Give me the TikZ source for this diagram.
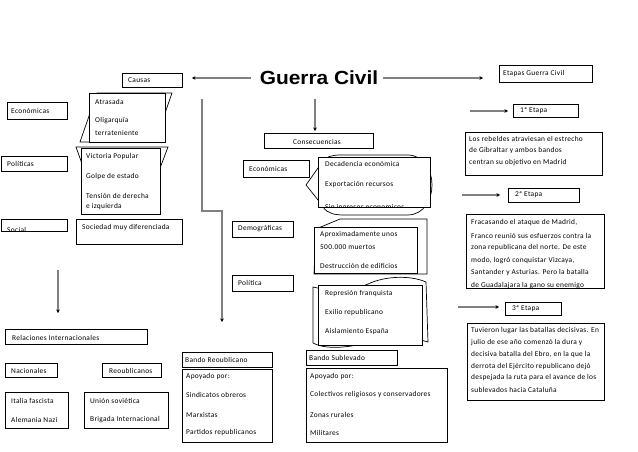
\documentclass[tikz,border=0pt]{standalone}
\usepackage{fontspec}
\setmainfont{Carlito}[LetterSpace=4]
\newfontfamily\titlefont{Liberation Sans}
\usetikzlibrary{arrows.meta}
\definecolor{ln}{RGB}{128,128,128}
\newcommand\bxn[5]{\node[bx,minimum width=#4pt,minimum height=#5pt] (#1) at (#2,#3) {};}
\begin{document}
\begin{tikzpicture}[x=1pt,y=-1pt,
  bx/.style={draw=black,fill=white,line width=0.9pt,inner sep=0pt,anchor=north west},
  tx/.style={font=\fontsize{7.4}{8}\selectfont,anchor=west,inner sep=0pt},
  shp/.style={draw=black,fill=white,line width=0.7pt},
  arr/.style={draw=ln,line width=1.1pt,-{Stealth[black,length=3.5pt,width=3.5pt]}}]
\useasboundingbox (0,0) rectangle (638,452);

% ---------- background shapes ----------
\draw[shp] (80,142) -- (97,93) -- (172,93) -- (155,142) -- cycle;
\draw[shp] (76,147) -- (168,147) -- (148,200) -- (95,200) -- cycle;
\draw[shp] (318,168) -- (306,185) -- (318,200) -- (323,207) .. controls (328,214) and (335,215) .. (345,215) -- (408,215) .. controls (440,214) and (440,156) .. (408,155) -- (340,155) .. controls (332,155) and (326,157) .. (322,161) -- cycle;
\draw[shp] (316,229) -- (340,219) -- (427,219) -- (427,274) -- (314,274) -- cycle;
\draw[shp] (313,287) -- (313,343) .. controls (330,352) and (360,345) .. (380,340) .. controls (400,336) and (415,338) .. (428,342) -- (426,282) .. controls (410,275) and (385,276) .. (368,284) .. controls (350,292) and (330,291) .. (313,287) -- cycle;

% ---------- title ----------
\node[inner sep=0pt,font=\titlefont\bfseries\fontsize{19}{20}\selectfont] (title) at (319,78) {\scalebox{1.1}[1]{Guerra Civil}};

% ---------- boxes ----------
\bxn{causas}{122}{73}{60}{14}
\bxn{etapas}{499}{65}{93}{17}
\bxn{ecoL}{7}{102}{60}{17}
\bxn{pol}{1}{156}{66}{15}
\bxn{soc}{1}{219}{66}{12}
\bxn{atr}{89}{93}{76}{49}
\bxn{vic}{81}{148}{79}{66}
\bxn{socd}{76}{219}{106}{25}
\bxn{conseq}{264}{133}{109}{15}
\bxn{ecoM}{243}{160}{66}{17}
\bxn{dec}{318}{157}{112}{50}
\bxn{dem}{232}{221}{61}{16}
\bxn{apr}{314}{227}{103}{46}
\bxn{polM}{232}{275}{61}{16}
\bxn{rep}{318}{285}{104}{60}
\bxn{bRep}{182}{352}{90}{15}
\bxn{aRep}{182}{369}{90}{73}
\bxn{bSub}{306}{350}{91}{15}
\bxn{aSub}{306}{368}{141}{74}
\bxn{et1}{513}{104}{65}{13}
\bxn{reb}{465}{132}{137}{43}
\bxn{et2}{508}{188}{71}{14}
\bxn{fra}{466}{214}{138}{74}
\bxn{et3}{505}{302}{56}{13}
\bxn{tuv}{467}{323}{137}{77}
\bxn{rel}{5}{329}{142}{15}
\bxn{nac}{5}{363}{52}{14}
\bxn{reo}{102}{363}{59}{14}
\bxn{ita}{5}{392}{63}{36}
\bxn{uni}{84}{392}{84}{36}

% ---------- texts ----------
\node[tx] (tCausas) at (128,80) {Causas};
\node[tx] (tEtapas) at (503,74) {Etapas Guerra Civil};
\node[tx] (tEcoL) at (11,111) {Económicas};
\node[tx] (tPol) at (7,164) {Políticas};
\begin{scope}
\clip (1,219) rectangle (67,231);
\node[tx,anchor=base west] (tSoc) at (7,232.5) {Social};
\end{scope}
\node[tx] (tA1) at (95,102) {Atrasada};
\node[tx] (tA2) at (95,121) {Oligarquía};
\node[tx] (tA3) at (95,133) {terrateniente};
\node[tx] (tV1) at (86,157) {Victoria Popular};
\node[tx] (tV2) at (86,177) {Golpe de estado};
\node[tx] (tV3) at (86,196) {Tensión de derecha};
\node[tx] (tV4) at (86,207) {e izquierda};
\node[tx] (tSocd) at (82,228) {Sociedad muy diferenciada};
\node[tx,anchor=center] (tConseq) at (317,141.5) {Consecuencias};
\node[tx] (tEcoM) at (249,169) {Económicas};
\node[tx] (tD1) at (325,164) {Decadencia económica};
\node[tx] (tD2) at (325,185) {Exportación recursos};
\begin{scope}
\clip (318,157) rectangle (430,207);
\node[tx,anchor=base west] (tD3) at (325,209.5) {Sin ingresos economicos};
\end{scope}
\node[tx] (tDem) at (238,229) {Demográficas};
\node[tx] (tAp1) at (320,235) {Aproximadamente unos};
\node[tx] (tAp2) at (320,247) {500.000 muertos};
\node[tx] (tAp3) at (320,266) {Destrucción de edificios};
\node[tx] (tPolM) at (238,283) {Política};
\node[tx] (tR1) at (325,294) {Represión franquista};
\node[tx] (tR2) at (325,313) {Exilio republicano};
\node[tx] (tR3) at (325,332) {Aislamiento España};
\node[tx] (tBRep) at (185,359.5) {Bando Reoublicano};
\node[tx] (tAR1) at (186,377) {Apoyado por:};
\node[tx] (tAR2) at (186,395) {Sindicatos obreros};
\node[tx] (tAR3) at (186,415) {Marxistas};
\node[tx] (tAR4) at (186,433) {Partidos republicanos};
\node[tx] (tBSub) at (309,357.5) {Bando Sublevado};
\node[tx] (tAS1) at (310,377) {Apoyado por:};
\node[tx] (tAS2) at (310,395) {Colectivos religiosos y conservadores};
\node[tx] (tAS3) at (310,415) {Zonas rurales};
\node[tx] (tAS4) at (310,433) {Militares};
\node[tx] (tEt1) at (520,110.5) {1ª Etapa};
\node[tx] (tRb1) at (469,139) {Los rebeldes atraviesan el estrecho};
\node[tx] (tRb2) at (469,151) {de Gibraltar y ambos bandos};
\node[tx] (tRb3) at (469,163) {centran su objetivo en Madrid};
\node[tx] (tEt2) at (515,195) {2ª Etapa};
\node[tx] (tF1) at (471,223) {Fracasando el ataque de Madrid,};
\node[tx] (tF2) at (471,235.5) {Franco reunió sus esfuerzos contra la};
\node[tx] (tF3) at (471,248) {zona republicana del norte. De este};
\node[tx] (tF4) at (471,260.5) {modo, logró conquistar Vizcaya,};
\node[tx] (tF5) at (471,273) {Santander y Asturias. Pero la batalla};
\node[tx] (tF6) at (471,285.5) {de Guadalajara la gano su enemigo};
\node[tx] (tEt3) at (512,308.5) {3ª Etapa};
\node[tx] (tT1) at (471,331) {Tuvieron lugar las batallas decisivas. En};
\node[tx] (tT2) at (471,342.7) {julio de ese año comenzó la dura y};
\node[tx] (tT3) at (471,354.4) {decisiva batalla del Ebro, en la que la};
\node[tx] (tT4) at (471,366.1) {derrota del Ejército republicano dejó};
\node[tx] (tT5) at (471,377.8) {despejada la ruta para el avance de los};
\node[tx] (tT6) at (471,389.5) {sublevados hacia Cataluña};
\node[tx] (tRel) at (12,337.5) {Relaciones Internacionales};
\node[tx] (tNac) at (11,371) {Nacionales};
\node[tx] (tReo) at (109,371) {Reoublicanos};
\node[tx] (tI1) at (11,401) {Italia fascista};
\node[tx] (tI2) at (11,420) {Alemania Nazi};
\node[tx] (tU1) at (90,401) {Unión soviética};
\node[tx] (tU2) at (90,420) {Brigada Internacional};

% ---------- connectors ----------
\draw[arr,shorten <=9pt,shorten >=9pt] (title.west) -- (causas.east |- title.west);
\draw[arr,shorten <=5pt,shorten >=16pt] (title.east) -- (etapas.west |- title.east);
\coordinate (d1) at (315,99);
\draw[arr,shorten >=2pt] (d1) -- (d1 |- conseq.north);
\coordinate (c1) at (202,99);
\coordinate (c2) at (222,322);
\draw[arr] (c1) -- (202,211) -- (222,211) -- (c2);
\coordinate (s1) at (58,270);
\draw[arr,shorten >=16pt] (s1) -- (s1 |- rel.north);
\coordinate (e1) at (470,111);
\draw[arr,shorten >=5pt] (e1) -- (e1 -| et1.west);
\coordinate (e2) at (462,195);
\draw[arr,shorten >=8pt] (e2) -- (e2 -| et2.west);
\coordinate (e3) at (458,307);
\draw[arr,shorten >=6pt] (e3) -- (e3 -| et3.west);
\end{tikzpicture}
\end{document}
